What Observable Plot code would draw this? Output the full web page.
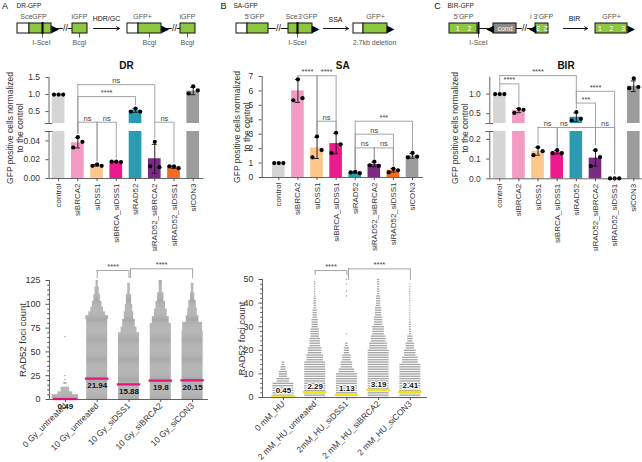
<!DOCTYPE html>
<html>
<head>
<meta charset="utf-8">
<script src="https://cdn.jsdelivr.net/npm/d3@7"></script>
<script src="https://cdn.jsdelivr.net/npm/@observablehq/plot@0.6"></script>
<style>
html,body{margin:0;padding:0;background:#fff;}
#fig{position:relative;width:642px;height:462px;overflow:hidden;background:#fff;font-family:'Liberation Sans',Arial,sans-serif;}
</style>
</head>
<body>
<div id="fig"></div>
<script>
// ---------------- data ----------------
const barCats = ["control","siBRCA2","siDSS1","siBRCA_siDSS1","siRAD52","siRAD52_siBRCA2","siRAD52_siDSS1","siCON3"];
const barColors = ["#d5d5d5","#f49bc4","#fdc68b","#ec1a8c","#2b9bb1","#7b2a83","#f26b22","#9c9c9c"];

// Panel A (DR)
const drMeans = [1.0, 0.038, 0.014, 0.018, 0.53, 0.021, 0.012, 1.1];
const drReps = [[1,1,1],[0.044,0.039,0.033],[0.015,0.0135,0.0135],[0.018,0.0175,0.018],[0.59,0.5,0.5],[0.039,0.012,0.013],[0.013,0.011,0.013],[1.24,1.12,1.03]];
const drTicks = [0, 0.02, 0.04, 0.5, 1.0, 1.5];
const drBrackets = [
  {a:1,b:5,y:1.29,la:0.047,lb:0.19,label:"ns"},
  {a:1,b:4,y:0.94,la:0.047,lb:0.68,label:"****"},
  {a:1,b:2,y:0.188,la:0.047,lb:0.018,label:"ns"},
  {a:2,b:3,y:0.188,la:0.018,lb:0.021,label:"ns"},
  {a:5,b:6,y:0.188,la:0.042,lb:0.016,label:"ns"}
];

// Panel B (SA)
const saMeans = [1.0, 6.0, 2.05, 2.35, 0.35, 0.9, 0.5, 1.5];
const saReps = [[1,1,1],[6.8,5.5,5.35],[2.85,1.9,1.4],[3.1,2.3,1.7],[0.4,0.3,0.35],[1.1,0.8,0.85],[0.6,0.5,0.35],[1.7,1.45,1.4]];
const saTicks = [0,1,2,3,4,5,6,7];
const saBrackets = [
  {a:1,b:2,y:7.05,la:6.9,lb:3.0,label:"****"},
  {a:2,b:3,y:7.05,la:3.0,lb:3.2,label:"****"},
  {a:2,b:3,y:3.9,la:3.0,lb:3.2,label:"ns"},
  {a:4,b:7,y:3.9,la:0.5,lb:1.85,label:"***"},
  {a:4,b:6,y:3.0,la:0.5,lb:0.7,label:"ns"},
  {a:4,b:5,y:2.05,la:0.5,lb:1.2,label:"ns"},
  {a:5,b:6,y:2.05,la:1.2,lb:0.7,label:"ns"}
];

// Panel C (BIR)
const birMeans = [1.0, 0.58, 0.14, 0.135, 0.41, 0.105, 0.002, 1.2];
const birReps = [[1,1,1],[0.62,0.6,0.52],[0.16,0.14,0.12],[0.145,0.13,0.13],[0.54,0.37,0.33],[0.145,0.11,0.065],[0.002,0.002,0.002],[1.4,1.18,1.15]];
const birTicks = [0, 0.1, 0.2, 0.5, 1.0];
const birBrackets = [
  {a:0,b:1,y:1.26,la:1.03,lb:0.66,label:"****"},
  {a:0,b:4,y:1.47,la:1.26,lb:0.77,label:"****"},
  {a:4,b:6,y:1.07,la:0.77,lb:0.02,label:"****"},
  {a:4,b:5,y:0.77,la:0.6,lb:0.17,label:"***"},
  {a:2,b:3,y:0.245,la:0.175,lb:0.155,label:"ns"},
  {a:3,b:5,y:0.245,la:0.155,lb:0.17,label:"ns",lx:3.35},
  {a:5,b:6,y:0.245,la:0.17,lb:0.02,label:"ns"}
];

// Panel D (IR) : profiles [lowValue, highValue, relative width]
const dCats = ["0 Gy_untreated","10 Gy_untreated","10 Gy_siDSS1","10 Gy_siBRCA2","10 Gy_siCON3"];
const dMeans = [0.49, 21.94, 15.88, 19.8, 20.15];
const dProfiles = [
  [[0,5,1.25],[6,8,0.7],[9,13,0.4],[17,18,0.15],[21,21,0.08],[25,25,0.08],[66,66,0.08]],
  [[0,84,1],[85,88,1.08],[89,92,0.8],[93,97,0.6],[98,103,0.45],[104,110,0.3],[111,118,0.2],[119,125,0.1]],
  [[0,70,1],[71,76,0.75],[77,84,0.6],[85,92,0.45],[93,100,0.35],[101,110,0.25],[111,122,0.12]],
  [[0,80,1],[81,87,0.8],[88,95,0.6],[96,103,0.45],[104,112,0.3],[113,125,0.15]],
  [[0,72,1],[73,81,0.95],[82,88,0.6],[89,96,0.45],[97,104,0.35],[105,112,0.2],[113,122,0.12]]
];
const dTicks = [0,25,50,75,100,125];
const dMinor = [5,10,15,20,30,35,40,45,55,60,65,70,80,85,90,95,105,110,115,120];
const dBrackets = [
  {a:1,b:2,y:135.5,la:127,lb:127,label:"****"},
  {a:2.05,b:4,y:137.3,la:127,lb:127,label:"****"}
];

// Panel E (HU)
const eCats = ["0 mM_HU","2 mM_HU_untreated","2mM_HU_siDSS1","2 mM_HU_siBRCA2","2 mM_HU_siCON3"];
const eMeans = [0.45, 2.29, 1.13, 3.19, 2.41];
const eProfiles = [
  [[0,6,1],[7,8,0.6],[9,11,0.4],[12,13,0.25],[14,15,0.12]],
  [[0,15,1],[16,18,0.8],[19,21,0.65],[22,25,0.5],[26,29,0.4],[30,33,0.3],[34,37,0.2],[38,42,0.12],[43,49,0.06]],
  [[0,10,1],[11,12,0.75],[13,15,0.55],[16,18,0.4],[19,21,0.25],[22,23,0.12],[27,27,0.05],[43,43,0.05],[45,45,0.05],[48,48,0.05],[50,50,0.05]],
  [[0,20,1],[21,23,0.85],[24,26,0.7],[27,30,0.55],[31,34,0.4],[35,38,0.3],[39,43,0.2],[44,50,0.1]],
  [[0,14,1],[15,17,0.75],[18,20,0.55],[21,23,0.4],[24,26,0.25],[27,32,0.1],[33,48,0.05]]
];
const eTicks = [0,10,20,30,40,50];
const eMinor = [2,4,6,8,12,14,16,18,22,24,26,28,32,34,36,38,42,44,46,48];
const eBrackets = [
  {a:1,b:2,y:53.8,la:51.7,lb:51.7,label:"****"},
  {a:2.05,b:4,y:54.5,la:49.6,lb:49.6,label:"****"}
];

// Schematic diagrams (schematic units)
const dgBoxes = [
  {x1:17,x2:29,fill:"white"},{x1:29,x2:51,fill:"#8dc63f"},{x1:72,x2:87,fill:"#8dc63f"},
  {x1:127,x2:138,fill:"white"},{x1:138,x2:161,fill:"#8dc63f"},{x1:180,x2:195,fill:"#8dc63f"},
  {x1:236,x2:247,fill:"white"},{x1:247,x2:268,fill:"#8dc63f"},{x1:288,x2:312,fill:"#8dc63f"},
  {x1:353,x2:363,fill:"white"},{x1:363,x2:387,fill:"#8dc63f"},
  {x1:449,x2:477,fill:"#8dc63f"},{x1:493,x2:516,fill:"#8a8a8a"},{x1:535,x2:548,fill:"#8dc63f"},{x1:595,x2:627,fill:"#8dc63f"}
];
const dgLines = [[51,72],[161,180],[268,288],[477,493],[516,535]];
const dgSlashes = [65,174,278,524];
const dgMarkers = [42,297,478];
const dgTicks = [42,79,149,187,297,478];
const dgTri = [{x:54.5,t:"▶"},{x:164.5,t:"▶"},{x:315,t:"▶"},{x:390,t:"▶"},{x:489.5,t:"◀"},{x:532,t:"◀"},{x:630.5,t:"▶"}];
const dgArrows = [[93,119],[323,348],[563,587]];
const dgText = [
  {x:4.5,y:6,t:"A",s:9,w:"bold",f:"#111"},{x:16,y:5.5,t:"DR-GFP",s:6.5,w:"bold",a:"start",f:"#222"},
  {x:33,y:16,t:"SceGFP"},{x:79,y:16,t:"iGFP"},{x:41,y:42,t:"I-SceI"},{x:79,y:42,t:"BcgI"},
  {x:106,y:18,t:"HDR/GC",w:"bold",f:"#111"},{x:142,y:16,t:"GFP+"},{x:187,y:16,t:"iGFP"},{x:149,y:42,t:"BcgI"},{x:187,y:42,t:"BcgI"},
  {x:223,y:6,t:"B",s:9,w:"bold",f:"#111"},{x:233,y:5.5,t:"SA-GFP",s:6.5,w:"bold",a:"start",f:"#222"},
  {x:254,y:16,t:"5'GFP"},{x:301,y:16,t:"Sce3'GFP"},{x:297,y:42,t:"I-SceI"},{x:335,y:19,t:"SSA",w:"bold",f:"#111"},
  {x:375,y:16,t:"GFP+"},{x:374,y:42,t:"2.7kb deletion"},
  {x:437,y:6,t:"C",s:9,w:"bold",f:"#111"},{x:447,y:5.5,t:"BIR-GFP",s:6.5,w:"bold",a:"start",f:"#222"},
  {x:463,y:16,t:"5'GFP"},{x:541,y:16,t:"i 3'GFP"},{x:478,y:42,t:"I-SceI"},{x:574,y:18,t:"BIR",w:"bold",f:"#111"},{x:611,y:16,t:"GFP+"},
  {x:463,y:28.5,t:"1    2",f:"white"},{x:504.5,y:28.5,t:"cond",f:"white"},{x:541.5,y:28,t:"2  3",f:"white",r:180},{x:611,y:28.5,t:"1    2    3",f:"white"}
];

// ---------------- drawing ----------------
const FF = "'Liberation Sans', Arial, Helvetica, sans-serif";
const axisCol = "#555";
const brCol = "#9a9a9a";
const fig = document.getElementById("fig");
function put(node, left, top) {
  node.style.position = "absolute";
  node.style.left = left + "px";
  node.style.top = top + "px";
  fig.appendChild(node);
}
const baseStyle = {fontFamily: FF, fontSize: "8px", color: "#333", background: "transparent"};

function bracketMarks(br) {
  return [
    Plot.ruleY(br, {y: "y", x1: "a", x2: "b", stroke: brCol, strokeWidth: 0.9}),
    Plot.ruleX(br, {x: "a", y1: "la", y2: "y", stroke: brCol, strokeWidth: 0.9}),
    Plot.ruleX(br, {x: "b", y1: "lb", y2: "y", stroke: brCol, strokeWidth: 0.9}),
    Plot.text(br, {x: d => d.lx ?? (d.a + d.b) / 2, y: "y", text: "label", dy: -4, fontSize: 7.5, fill: "#444"})
  ];
}

const repOff = [0, 0.24, -0.24];
const yTitle1 = "GFP positive cells normalized";
const yTitle2 = "to the control";

function barPanel(o) {
  const stats = o.means.map((m, i) => {
    const sd = d3.deviation(o.reps[i]) || 0;
    return {i, m, sd, lo: Math.max(0, m - sd), hi: m + sd, c: barColors[i]};
  });
  const eb = stats.filter(d => d.sd > 0.0005);
  const pts = o.reps.flatMap((r, i) => r.map((v, k) => ({i, v, k})));
  const x0 = o.xDomain[0];
  const marks = [
    Plot.rect(stats, {x1: d => d.i - 0.33, x2: d => d.i + 0.33, y1: 0, y2: "m", fill: "c"})
  ];
  if (o.gap) {
    marks.push(Plot.rect([o.gap], {x1: () => x0 - 0.4, x2: () => o.xDomain[1], y1: d => d[0], y2: d => d[1], fill: "white"}));
  }
  marks.push(
    Plot.ruleX(o.segs, {x: () => x0, y1: d => d[0], y2: d => d[1], stroke: axisCol, strokeWidth: 0.9}),
    Plot.ruleY([0], {stroke: axisCol, strokeWidth: 0.9}),
    Plot.ruleX(eb, {x: "i", y1: "lo", y2: "hi", stroke: "#111", strokeWidth: 0.9}),
    Plot.ruleY(eb, {y: "hi", x1: d => d.i - 0.13, x2: d => d.i + 0.13, stroke: "#111", strokeWidth: 0.9}),
    Plot.ruleY(eb, {y: "lo", x1: d => d.i - 0.13, x2: d => d.i + 0.13, stroke: "#111", strokeWidth: 0.9}),
    Plot.dot(pts, {x: d => d.i + repOff[d.k], y: "v", r: 2.1, fill: "#000"}),
    ...bracketMarks(o.brackets),
    Plot.axisY({ticks: o.yTicks, tickFormat: o.fmt, tickSize: 3, fontSize: 8.5, label: null, stroke: axisCol}),
    Plot.axisX({ticks: d3.range(barCats.length), tickFormat: i => barCats[i], tickRotate: -90, tickSize: 3, tickPadding: 2, fontSize: 8, label: null, stroke: axisCol}),
    Plot.text([yTitle1], {frameAnchor: "left", dx: o.tdx - 5, rotate: -90, textAnchor: "middle", fontSize: 8.5, fill: "#333", text: d => d}),
    Plot.text([yTitle2], {frameAnchor: "left", dx: o.tdx + 5, rotate: -90, textAnchor: "middle", fontSize: 8.5, fill: "#333", text: d => d}),
    Plot.text([o.title], {frameAnchor: "top", dy: 11 - o.mt, textAnchor: "middle", fontSize: 10, fontWeight: "bold", fill: "#111", text: d => d})
  );
  if (o.gap) {
    marks.push(Plot.ruleY(o.gap, {y: d => d, x1: () => x0 - 0.2, x2: () => x0 + 0.2, stroke: axisCol, strokeWidth: 0.9}));
  }
  return Plot.plot({
    width: o.width, height: o.height,
    marginLeft: o.ml, marginRight: o.mr, marginTop: o.mt, marginBottom: o.height - o.yRange[0],
    x: {type: "linear", domain: o.xDomain},
    y: {type: "linear", domain: o.yDomain, range: o.yRange},
    color: {type: "identity"},
    style: baseStyle,
    marks
  });
}

const fmtDR = d => d < 0.1 ? d.toFixed(2) : d.toFixed(1);
const fmt1 = d => d.toFixed(1);

// Panel A
put(barPanel({
  width: 215, height: 201, ml: 48.5, mr: 11.7, mt: 27,
  xDomain: [-0.5, 7.55],
  yDomain: [0, 0.05, 0.15, 1.5], yRange: [128, 81, 73, 27],
  gap: [0.05, 0.15], segs: [[0, 0.05], [0.15, 1.5]],
  yTicks: drTicks, fmt: fmtDR,
  means: drMeans, reps: drReps, brackets: drBrackets,
  tdx: -33.5, title: "DR"
}), 0, 50);

// Panel B
put(barPanel({
  width: 215, height: 201, ml: 46.7, mr: 7.1, mt: 26,
  xDomain: [-0.87, 7.57],
  yDomain: [0, 7], yRange: [127, 26],
  gap: null, segs: [[0, 7]],
  yTicks: saTicks, fmt: d => String(d),
  means: saMeans, reps: saReps, brackets: saBrackets,
  tdx: -19.5, title: "SA"
}), 215, 50);

// Panel C
put(barPanel({
  width: 212, height: 201, ml: 59.3, mr: 0.3, mt: 26.7,
  xDomain: [-0.52, 7.44],
  yDomain: [0, 0.24, 0.25, 1.43], yRange: [128.3, 81, 73, 26.7],
  gap: [0.24, 0.25], segs: [[0, 0.24], [0.25, 1.43]],
  yTicks: birTicks, fmt: fmt1,
  means: birMeans, reps: birReps, brackets: birBrackets,
  tdx: -29.3, title: "BIR"
}), 430, 50);

// Swarm panels
function swarmPanel(o) {
  const rows = [];
  o.profiles.forEach((p, i) => p.forEach(([lo, hi, w]) => { for (let v = lo; v <= hi; v++) rows.push({i, v, w}); }));
  const hw = 0.33;
  const x0 = o.xDomain[0];
  return Plot.plot({
    width: o.width, height: o.height,
    marginLeft: o.ml, marginRight: o.mr, marginTop: o.mt, marginBottom: o.mb,
    x: {type: "linear", domain: o.xDomain},
    y: {type: "linear", domain: o.yDomain},
    style: baseStyle,
    marks: [
      Plot.ruleY(rows, {y: "v", x1: d => d.i - d.w * hw, x2: d => d.i + d.w * hw, stroke: o.rowColor, strokeWidth: o.rowWidth}),
      Plot.ruleY(o.means, {y: d => d, x1: (d, i) => i - 0.37, x2: (d, i) => i + 0.37, stroke: o.meanColor, strokeWidth: 2.3}),
      Plot.text(o.means, {x: (d, i) => i, y: d => d, text: d => String(d), dy: o.meanDy, fontSize: 8, fontWeight: "bold", fill: "#111",
        stroke: o.halo ? "white" : null, strokeWidth: o.halo ? 2.2 : null, paintOrder: "stroke"}),
      Plot.ruleX([x0], {stroke: axisCol, strokeWidth: 0.9}),
      Plot.ruleY([0], {stroke: axisCol, strokeWidth: 0.9}),
      Plot.axisY({ticks: o.yTicks, tickSize: 3.5, fontSize: 9, label: null, stroke: axisCol}),
      Plot.axisY({ticks: o.minor, tickSize: 1.8, tickFormat: () => "", label: null, stroke: axisCol}),
      Plot.axisX({ticks: d3.range(o.cats.length), tickFormat: i => o.cats[i], tickRotate: -45, tickSize: 3, tickPadding: 2, fontSize: 8.5, label: null, stroke: axisCol}),
      ...bracketMarks(o.brackets),
      Plot.text([o.yTitle], {frameAnchor: "left", dx: o.tdx, rotate: -90, textAnchor: "middle", fontSize: 9.5, fill: "#333", text: d => d})
    ]
  });
}

put(swarmPanel({
  width: 215, height: 207, ml: 49, mr: 7, mt: 25, mb: 63,
  xDomain: [-0.5, 4.5], yDomain: [0, 125],
  profiles: dProfiles, means: dMeans, cats: dCats, yTicks: dTicks, minor: dMinor, brackets: dBrackets,
  rowColor: "#8e8e8e", rowWidth: 0.75, meanColor: "#e6177f", meanDy: 7, halo: false,
  yTitle: "RAD52 foci count", tdx: -27
}), 0, 255);

put(swarmPanel({
  width: 230, height: 207, ml: 62, mr: 3, mt: 24, mb: 65,
  xDomain: [-0.66, 4.54], yDomain: [0, 50],
  profiles: eProfiles, means: eMeans, cats: eCats, yTicks: eTicks, minor: eMinor, brackets: eBrackets,
  rowColor: "#a3a3a3", rowWidth: 1.3, meanColor: "#f2e21b", meanDy: -6, halo: true,
  yTitle: "RAD52 foci count", tdx: -21
}), 200, 255);

// Diagram strip
put(Plot.plot({
  width: 642, height: 55, margin: 0,
  x: {type: "linear", domain: [0, 642], range: [0, 642], axis: null},
  y: {type: "linear", domain: [0, 55], range: [0, 55], axis: null},
  color: {type: "identity"},
  style: baseStyle,
  marks: [
    Plot.ruleY(dgLines, {y: () => 28, x1: d => d[0], x2: d => d[1], stroke: "#111", strokeWidth: 1}),
    Plot.rect(dgBoxes, {x1: "x1", x2: "x2", y1: () => 23, y2: () => 33, fill: "fill", stroke: "#111", strokeWidth: 1}),
    Plot.ruleX(dgMarkers, {x: d => d, y1: () => 22, y2: () => 34, stroke: "#000", strokeWidth: 2}),
    Plot.ruleX(dgTicks, {x: d => d, y1: () => 33, y2: () => 37.5, stroke: "#333", strokeWidth: 0.8}),
    Plot.text(dgTri, {x: "x", y: () => 28.5, text: "t", fontSize: 10, fill: "#000", fontFamily: "DejaVu Sans"}),
    Plot.arrow(dgArrows, {x1: d => d[0], x2: d => d[1], y1: () => 28, y2: () => 28, stroke: "#111", strokeWidth: 1, headLength: 5}),
    Plot.text(dgSlashes, {x: d => d, y: () => 28, text: () => "//", fontSize: 9, fill: "#111", stroke: "white", strokeWidth: 1.5, paintOrder: "stroke"}),
    Plot.text(dgText.filter(d => d.a !== "start"), {x: "x", y: "y", text: "t", fontSize: d => d.s ?? 7, fontWeight: d => d.w ?? "normal",
      textAnchor: "middle", fill: d => d.f ?? "#555", rotate: d => d.r ?? 0}),
    Plot.text(dgText.filter(d => d.a === "start"), {x: "x", y: "y", text: "t", fontSize: d => d.s ?? 7, fontWeight: d => d.w ?? "normal",
      textAnchor: "start", fill: d => d.f ?? "#555"})
  ]
}), 0, 0);
</script>
</body>
</html>
